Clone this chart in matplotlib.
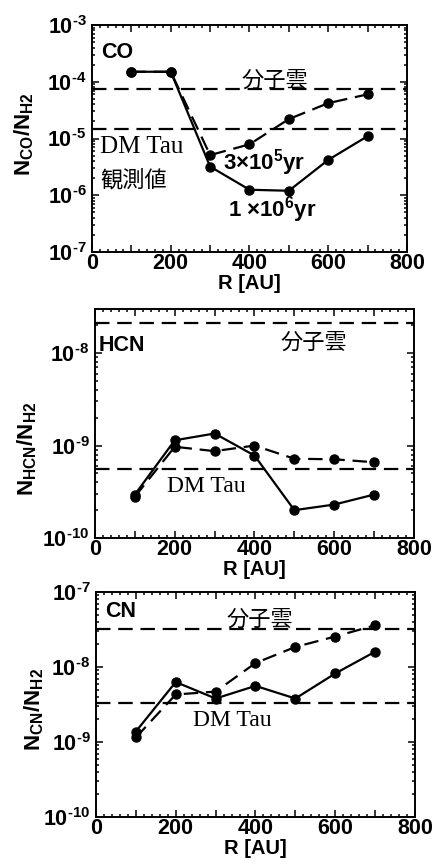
import matplotlib
matplotlib.use("Agg")
import matplotlib.pyplot as plt
from matplotlib.ticker import LogLocator, MultipleLocator, FixedLocator, FuncFormatter, NullFormatter
import numpy as np

plt.rcParams['font.family'] = ['Liberation Sans', 'DejaVu Sans']
plt.rcParams['font.weight'] = 'bold'
plt.rcParams['mathtext.fontset'] = 'custom'
plt.rcParams['mathtext.rm'] = 'Liberation Sans:bold'
plt.rcParams['mathtext.bf'] = 'Liberation Sans:bold'
plt.rcParams['mathtext.default'] = 'rm'

# radius [AU]
r = [100, 200, 300, 400, 500, 600, 700]
x_ticks = [0, 100, 200, 300, 400, 500, 600, 700, 800]

# CO
co_1e6 = [1.5e-4, 1.5e-4, 3.2e-6, 1.25e-6, 1.2e-6, 4.2e-6, 1.1e-5]
co_3e5 = [1.5e-4, 1.5e-4, 5.1e-6, 7.9e-6, 2.2e-5, 4.2e-5, 6.0e-5]
co_cloud = 7.4e-5
co_dmtau = 1.45e-5

# HCN
hcn_1e6 = [2.95e-10, 1.14e-9, 1.35e-9, 7.8e-10, 2.0e-10, 2.3e-10, 2.95e-10]
hcn_3e5 = [2.8e-10, 9.7e-10, 8.7e-10, 1.0e-9, 7.2e-10, 7.1e-10, 6.6e-10]
hcn_cloud = 2.1e-8
hcn_dmtau = 5.6e-10

# CN
cn_1e6 = [1.38e-9, 6.3e-9, 3.8e-9, 5.6e-9, 3.8e-9, 8.2e-9, 1.6e-8]
cn_3e5 = [1.15e-9, 4.3e-9, 4.7e-9, 1.13e-8, 1.85e-8, 2.55e-8, 3.6e-8]
cn_cloud = 3.2e-8
cn_dmtau = 3.35e-9

JP = ['Noto Sans CJK JP']
SERIF = ['Liberation Serif']
LW = 1.6
DASH = (6.5, 3.5)
FS = 15.5


def pow_fmt(v, pos):
    e = int(round(np.log10(v)))
    return r'$10^{\text{%d}}$' % e


def x_fmt(v, pos):
    if int(round(v)) % 200 == 0:
        return '%d' % v
    return ''


def setup(ax, ylo, yhi, ylabel, lab_x, lab_y):
    ax.set_yscale('log')
    ax.set_xlim(0, 800)
    ax.set_ylim(ylo, yhi)
    ax.xaxis.set_major_locator(FixedLocator(x_ticks))
    ax.xaxis.set_minor_locator(MultipleLocator(20))
    ax.xaxis.set_major_formatter(FuncFormatter(x_fmt))
    ax.yaxis.set_major_locator(LogLocator(base=10, numticks=20))
    ax.yaxis.set_minor_locator(LogLocator(base=10, subs=np.arange(2, 10), numticks=20))
    ax.yaxis.set_major_formatter(FuncFormatter(pow_fmt))
    ax.yaxis.set_minor_formatter(NullFormatter())
    ax.tick_params(which='both', direction='in', top=True, right=True,
                   labelsize=FS, width=1.1)
    ax.tick_params(which='major', length=5)
    ax.tick_params(which='minor', length=2.5)
    ax.tick_params(axis='x', pad=1)
    ax.tick_params(axis='y', pad=4)
    for s in ax.spines.values():
        s.set_linewidth(1.4)
    ax.set_xlabel('R [AU]', fontsize=14.5, fontweight='bold', labelpad=0)
    ax.set_ylabel(ylabel, fontsize=16)
    ax.yaxis.set_label_coords(lab_x, lab_y)


def curves(ax, solid, dashed, cloud, dmtau):
    ax.plot(r, solid, '-o', color='black', lw=LW, ms=6.5)
    ax.plot(r, dashed, '--o', color='black', lw=LW, ms=6.5, dashes=DASH)
    ax.axhline(cloud, color='black', lw=LW, dashes=DASH)
    ax.axhline(dmtau, color='black', lw=LW, dashes=DASH)


fig = plt.figure(figsize=(4.35, 8.66), dpi=100)

# CO panel
ax1 = fig.add_axes([92 / 435, 1 - 252 / 866, 315 / 435, 227 / 866])
setup(ax1, 1e-7, 1e-3, r'$N_{CO}/N_{H2}$', -0.178, 0.52)
curves(ax1, co_1e6, co_3e5, co_cloud, co_dmtau)
ax1.text(0.03, 0.925, 'CO', transform=ax1.transAxes, fontsize=FS, va='top', ha='left')
ax1.text(0.476, 0.758, '分子雲', transform=ax1.transAxes, fontsize=16,
         family=JP, fontweight='normal', va='center', ha='left')
ax1.text(0.025, 0.463, 'DM Tau', transform=ax1.transAxes, fontsize=18,
         family=SERIF, fontweight='normal', va='center', ha='left')
ax1.text(0.025, 0.317, '観測値', transform=ax1.transAxes, fontsize=16,
         family=JP, fontweight='normal', va='center', ha='left')
ax1.text(0.416, 0.392, '3×10$^{5}$yr', transform=ax1.transAxes, fontsize=16,
         va='center', ha='left')
ax1.text(0.432, 0.185, '1 ×10$^{6}$yr', transform=ax1.transAxes, fontsize=16,
         va='center', ha='left')

# HCN panel
ax2 = fig.add_axes([95 / 435, 1 - 538 / 866, 319 / 435, 229 / 866])
setup(ax2, 1e-10, 3e-8, r'$N_{HCN}/N_{H2}$', -0.176, 0.39)
curves(ax2, hcn_1e6, hcn_3e5, hcn_cloud, hcn_dmtau)
ax2.text(0.01, 0.886, 'HCN', transform=ax2.transAxes, fontsize=FS, va='top', ha='left')
ax2.text(0.58, 0.853, '分子雲', transform=ax2.transAxes, fontsize=16,
         family=JP, fontweight='normal', va='center', ha='left')
ax2.text(0.226, 0.225, 'DM Tau', transform=ax2.transAxes, fontsize=17,
         family=SERIF, fontweight='normal', va='center', ha='left')

# CN panel
ax3 = fig.add_axes([96 / 435, 1 - 817 / 866, 319 / 435, 225 / 866])
setup(ax3, 1e-10, 1e-7, r'$N_{CN}/N_{H2}$', -0.157, 0.48)
curves(ax3, cn_1e6, cn_3e5, cn_cloud, cn_dmtau)
ax3.text(0.028, 0.96, 'CN', transform=ax3.transAxes, fontsize=FS, va='top', ha='left')
ax3.text(0.41, 0.878, '分子雲', transform=ax3.transAxes, fontsize=16,
         family=JP, fontweight='normal', va='center', ha='left')
ax3.text(0.305, 0.43, 'DM Tau', transform=ax3.transAxes, fontsize=17,
         family=SERIF, fontweight='normal', va='center', ha='left')

fig.savefig('out.png', dpi=100)
